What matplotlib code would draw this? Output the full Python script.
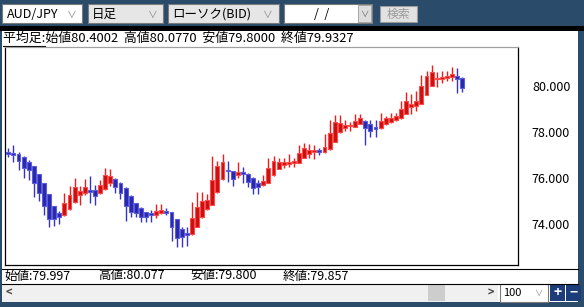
import matplotlib.pyplot as plt
import numpy as np
from matplotlib.patches import Rectangle

plt.rcParams['font.family'] = ['Noto Sans CJK JP', 'DejaVu Sans']

# Heikin-Ashi daily candles, AUD/JPY
opens = [77.09, 77.09, 77.05, 76.91, 76.69, 76.53, 76.17, 75.78, 75.30, 74.78,
         74.48, 74.39, 74.65, 74.95, 75.27, 75.34, 75.49, 75.49, 75.34, 75.52,
         75.80, 75.97, 75.80, 75.59, 75.23, 74.91, 74.71, 74.53, 74.42, 74.39,
         74.48, 74.58, 74.53, 74.22, 73.81, 73.62, 73.57, 73.90, 74.30, 74.65,
         74.85, 75.39, 75.95, 76.32, 76.31, 76.13, 76.21, 76.20, 76.02, 75.80,
         75.70, 75.80, 76.13, 76.41, 76.56, 76.60, 76.68, 76.67, 76.89, 77.05,
         77.14, 77.16, 77.15, 77.25, 77.58, 77.99, 78.18, 78.25, 78.24, 78.35,
         78.48, 78.34, 78.22, 78.16, 78.34, 78.43, 78.52, 78.60, 78.79, 79.08,
         79.15, 79.22, 79.61, 80.00, 80.29, 80.30, 80.33, 80.39, 80.45, 80.36]
highs = [77.30, 77.45, 77.12, 76.95, 76.79, 76.55, 76.20, 75.80, 75.32, 74.80,
         74.59, 75.37, 75.66, 75.99, 75.67, 75.97, 76.11, 75.70, 75.92, 76.46,
         76.40, 75.99, 75.82, 75.60, 75.25, 74.93, 74.73, 74.55, 74.62, 74.88,
         74.88, 74.71, 74.55, 74.24, 73.87, 73.87, 74.95, 75.40, 75.40, 75.30,
         76.98, 76.76, 77.04, 76.76, 76.33, 76.69, 76.50, 76.22, 76.04, 75.92,
         76.14, 76.86, 76.98, 76.89, 76.86, 77.05, 76.86, 77.44, 77.51, 77.47,
         77.43, 77.30, 77.90, 78.52, 78.74, 78.74, 78.52, 78.45, 78.77, 78.77,
         78.52, 78.52, 78.52, 78.82, 78.70, 78.84, 78.82, 79.35, 79.75, 79.65,
         79.78, 80.48, 80.66, 80.91, 80.61, 80.66, 80.65, 80.81, 80.77, 80.38]
lows = [76.91, 76.70, 76.36, 76.02, 75.92, 75.17, 75.02, 74.39, 73.87, 73.93,
        74.01, 74.37, 74.63, 74.93, 74.84, 75.27, 74.91, 74.84, 75.32, 75.50,
        75.67, 75.34, 75.10, 74.16, 74.30, 74.30, 74.11, 74.11, 74.11, 74.29,
        74.45, 74.39, 73.29, 73.03, 73.03, 73.07, 73.55, 73.88, 74.28, 74.63,
        74.83, 75.37, 75.93, 75.85, 75.67, 76.00, 75.80, 75.61, 75.31, 75.31,
        75.66, 75.78, 76.11, 76.39, 76.43, 76.50, 76.50, 76.65, 76.86, 76.86,
        76.82, 77.01, 77.08, 77.23, 77.56, 77.97, 78.05, 78.06, 78.22, 78.33,
        77.44, 77.80, 77.80, 78.14, 78.30, 78.41, 78.50, 78.58, 78.77, 78.79,
        78.92, 79.20, 79.59, 79.98, 79.94, 80.14, 80.23, 80.22, 79.68, 79.75]
closes = [77.07, 77.01, 76.75, 76.44, 76.36, 75.78, 75.34, 74.81, 74.24, 74.22,
          74.30, 74.91, 75.28, 75.61, 75.43, 75.61, 75.40, 75.24, 75.72, 76.14,
          76.10, 75.62, 75.34, 74.81, 74.55, 74.50, 74.33, 74.30, 74.40, 74.58,
          74.62, 74.48, 73.87, 73.42, 73.44, 73.52, 74.26, 74.75, 75.02, 75.07,
          75.92, 76.54, 76.69, 76.30, 75.95, 76.26, 76.19, 75.85, 75.56, 75.61,
          75.89, 76.43, 76.75, 76.70, 76.69, 76.72, 76.70, 77.11, 77.30, 77.22,
          77.16, 77.14, 77.37, 77.95, 78.43, 78.41, 78.31, 78.27, 78.48, 78.60,
          78.16, 78.06, 78.13, 78.48, 78.60, 78.62, 78.70, 78.99, 79.36, 79.23,
          79.34, 80.00, 80.43, 80.59, 80.31, 80.38, 80.45, 80.51, 80.29, 79.90]

y_ticks = [74, 76, 78, 80]

pair = "AUD/JPY"
period = "日足"
chart_type = "ローソク(BID)"
header = "平均足:始値80.4002  高値80.0770  安値79.8000  終値79.9327"
footer = ["始値:79.997", "高値:80.077", "安値:79.800", "終値:79.857"]
footer_x = [4, 98, 190, 283]

W, H = 584, 307
fig = plt.figure(figsize=(W / 100, H / 100), dpi=100)
fig.patch.set_facecolor('#2b4b6b')

# background layer in pixel coordinates (y down)
bg = fig.add_axes([0, 0, 1, 1])
bg.set_xlim(0, W)
bg.set_ylim(H, 0)
bg.axis('off')

def box(x, y, w, h, fc, ec='none', lw=1.0, z=1):
    bg.add_patch(Rectangle((x, y), w, h, facecolor=fc, edgecolor=ec, lw=lw, zorder=z))

# white window body
box(2, 31, 576, 271, 'white')
box(0, 26, W, 5, 'black')

# toolbar combos
box(2, 4, 80, 19, 'white', '#7a7a7a', 0.8)
bg.text(7, 14, pair, fontsize=9, va='center', ha='left')
bg.text(72, 14.5, "∨", fontsize=7, va='center', ha='center', color='#888888')
box(88, 4, 75, 19, '#e6e6e6', '#7a7a7a', 0.8)
bg.text(92, 14, period, fontsize=9, va='center', ha='left')
bg.text(153, 14.5, "∨", fontsize=7, va='center', ha='center', color='#888888')
box(168, 4, 111, 19, '#e6e6e6', '#7a7a7a', 0.8)
bg.text(172, 14, chart_type, fontsize=9, va='center', ha='left')
bg.text(268, 14.5, "∨", fontsize=7, va='center', ha='center', color='#888888')
box(284, 4, 88, 19, 'white', '#7a7a7a', 0.8)
bg.text(322, 14, "/  /", fontsize=9, va='center', ha='center')
box(358, 5, 13, 17, '#dcdcdc', '#9a9a9a', 0.6)
bg.text(364.5, 14.5, "∨", fontsize=6, va='center', ha='center', color='#666666')
box(380, 6, 37, 16, '#e2e2e2', '#9a9a9a', 0.8)
bg.text(398.5, 14, "検索", fontsize=8.5, va='center', ha='center', color='#9a9a9a')

# header line
bg.text(3, 38.5, header, fontsize=9.3, va='center', ha='left')
bg.plot([3, 45], [45.5, 45.5], color='black', lw=0.8)

# separators and footer
bg.plot([2, 578], [268.5, 268.5], color='black', lw=0.8)
bg.plot([2, 578], [283.5, 283.5], color='black', lw=0.8)
for x, t in zip(footer_x, footer):
    bg.text(x, 276, t, fontsize=9, va='center', ha='left')

# scrollbar and zoom controls
box(2, 284, 496, 18, '#f0f0f0')
box(428, 285, 17, 16, '#cdcdcd')
bg.text(9, 293, "<", fontsize=8, va='center', ha='center', color='#444444', weight='bold')
bg.text(491, 293, ">", fontsize=8, va='center', ha='center', color='#444444', weight='bold')
box(500, 284, 48, 18, 'white', '#7a7a7a', 0.8)
bg.text(503, 292.5, "100", fontsize=8, va='center', ha='left')
bg.text(538, 293, "∨", fontsize=6, va='center', ha='center', color='#888888')
box(550, 285, 15, 16, '#1c3d7a')
box(566, 285, 15, 16, '#1c3d7a')
bg.text(557.5, 293, "+", fontsize=10, va='center', ha='center', color='white', weight='bold')
bg.text(573.5, 292.5, "−", fontsize=10, va='center', ha='center', color='white', weight='bold')

# candle chart
left, right, top, bottom = 5, 518, 46.5, 265
ax = fig.add_axes([left / W, 1 - bottom / H, (right - left) / W, (bottom - top) / H])
ax.set_facecolor('white')
n = len(opens)
xs = np.arange(n)
step = 5.1
ax.set_xlim(-(8.3 - left) / step, -(8.3 - left) / step + (right - left) / step)
ax.set_ylim(80 - (bottom - 86) / 23.05, 80 + (86 - top) / 23.05)

o = np.array(opens); c = np.array(closes)
up = c >= o
wick_col = np.where(up, '#ee1c1c', '#3434cc')
face_col = np.where(up, '#c81010', '#2828a8')
edge_col = np.where(up, '#ff4a4a', '#5c5ce0')
ax.vlines(xs, lows, highs, colors=wick_col, lw=1.0, zorder=2)
body_bottom = np.minimum(o, c)
body_h = np.maximum(np.abs(c - o), 0.07)
ax.bar(xs, body_h, bottom=body_bottom, width=0.78, color=face_col,
       edgecolor=edge_col, linewidth=0.8, zorder=3)

ax.set_xticks([])
ax.yaxis.tick_right()
ax.set_yticks(y_ticks)
ax.set_yticklabels([f"{v:.3f}" for v in y_ticks], fontsize=9)
ax.tick_params(axis='y', length=0, pad=10)
for s in ['left', 'right', 'bottom']:
    ax.spines[s].set_color('black')
    ax.spines[s].set_linewidth(0.9)
ax.spines['top'].set_color('#a0a0a0')
ax.spines['top'].set_linewidth(0.9)

fig.savefig("out.png", dpi=100, facecolor=fig.get_facecolor())
